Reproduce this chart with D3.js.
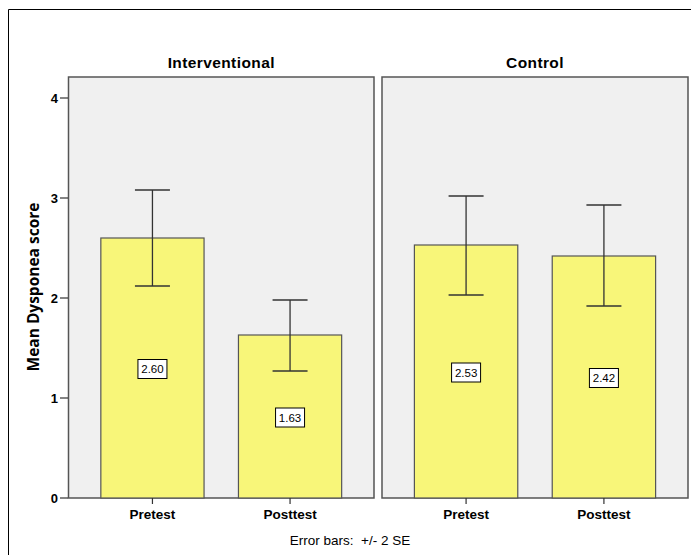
<!DOCTYPE html>
<html>
<head>
<meta charset="utf-8">
<script src="https://cdn.jsdelivr.net/npm/d3@7"></script>
<style>
  body { margin: 0; background: #fff; }
  svg { display: block; font-family: "Liberation Sans", Arial, sans-serif; }
</style>
</head>
<body>
<svg id="chart" width="691" height="555"></svg>
<script>
// Data.
const groups = ['Interventional', 'Control'];
const times = ['Pretest', 'Posttest'];
const means = [[2.60, 1.63], [2.53, 2.42]];
const lower = [[2.12, 1.27], [2.03, 1.92]];
const upper = [[3.08, 1.98], [3.02, 2.93]];
const yTicks = [0, 1, 2, 3, 4];

const svg = d3.select('#chart');

// Outer frame (only top and left edges are visible).
svg.append('path')
  .attr('d', 'M8.5,555 V9.5 H691')
  .attr('fill', 'none')
  .attr('stroke', '#000')
  .attr('stroke-width', 1);

// Panel layout.
const plotTop = 77, plotBottom = 498;
const panels = d3.scaleOrdinal().domain(groups).range([[68.5, 374], [382, 688]]);
const y = d3.scaleLinear().domain([0, 4.21]).range([plotBottom, plotTop]);

groups.forEach((group, gi) => {
  const [x0, x1] = panels(group);
  const x = d3.scaleBand().domain(times).range([x0, x1])
    .paddingInner(0.25).paddingOuter(0.235);
  const g = svg.append('g');

  // Panel background.
  g.append('rect')
    .attr('x', x0).attr('y', plotTop)
    .attr('width', x1 - x0).attr('height', plotBottom - plotTop)
    .attr('fill', '#f0f0f0')
    .attr('stroke', '#555').attr('stroke-width', 1.5);

  // Panel title.
  g.append('text')
    .attr('x', (x0 + x1) / 2).attr('y', 68)
    .attr('text-anchor', 'middle')
    .attr('font-size', 15.5).attr('font-weight', 'bold')
    .attr('letter-spacing', 0.4)
    .text(group);

  const rows = times.map((t, i) => ({
    time: t, mean: means[gi][i], lo: lower[gi][i], hi: upper[gi][i]
  }));

  // Bars.
  g.selectAll('rect.bar').data(rows).join('rect')
    .attr('class', 'bar')
    .attr('x', d => x(d.time)).attr('width', x.bandwidth())
    .attr('y', d => y(d.mean)).attr('height', d => y(0) - y(d.mean))
    .attr('fill', '#f8f679')
    .attr('stroke', '#555').attr('stroke-width', 1.2);

  // Error bars.
  const cx = d => x(d.time) + x.bandwidth() / 2;
  const eb = g.append('g').attr('stroke', '#333').attr('stroke-width', 1.3);
  eb.selectAll('line.v').data(rows).join('line')
    .attr('class', 'v')
    .attr('x1', cx).attr('x2', cx)
    .attr('y1', d => y(d.hi)).attr('y2', d => y(d.lo));
  ['hi', 'lo'].forEach(k => {
    eb.selectAll('line.' + k).data(rows).join('line')
      .attr('class', k)
      .attr('x1', d => cx(d) - 17.5).attr('x2', d => cx(d) + 17.5)
      .attr('y1', d => y(d[k])).attr('y2', d => y(d[k]));
  });

  // Value labels at bar mid-height.
  const lab = g.selectAll('g.lab').data(rows).join('g')
    .attr('class', 'lab')
    .attr('transform', d => `translate(${cx(d)},${(y(d.mean) + y(0)) / 2 + 1})`);
  lab.append('rect')
    .attr('x', -14.5).attr('y', -9.5).attr('width', 29).attr('height', 19)
    .attr('fill', '#fff').attr('stroke', '#000').attr('stroke-width', 1);
  lab.append('text')
    .attr('text-anchor', 'middle').attr('dy', '0.35em')
    .attr('font-size', 11.5)
    .text(d => d.mean.toFixed(2));

  // X axis ticks and labels.
  g.selectAll('line.xt').data(times).join('line')
    .attr('class', 'xt')
    .attr('x1', t => x(t) + x.bandwidth() / 2).attr('x2', t => x(t) + x.bandwidth() / 2)
    .attr('y1', plotBottom).attr('y2', plotBottom + 6)
    .attr('stroke', '#333').attr('stroke-width', 1.2);
  g.selectAll('text.xl').data(times).join('text')
    .attr('class', 'xl')
    .attr('x', t => x(t) + x.bandwidth() / 2).attr('y', 519)
    .attr('text-anchor', 'middle')
    .attr('font-size', 13.5).attr('font-weight', 'bold')
    .text(t => t);
});

// Y axis.
const yAxis = svg.append('g');
yAxis.selectAll('line').data(yTicks).join('line')
  .attr('x1', 60).attr('x2', 68)
  .attr('y1', d => y(d)).attr('y2', d => y(d))
  .attr('stroke', '#333').attr('stroke-width', 1.2);
yAxis.selectAll('text').data(yTicks).join('text')
  .attr('x', 58).attr('y', d => y(d)).attr('dy', '0.36em')
  .attr('text-anchor', 'end')
  .attr('font-size', 13).attr('font-weight', 'bold')
  .text(d => d);

// Y axis title.
svg.append('text')
  .attr('transform', 'translate(39,287) rotate(-90)')
  .attr('text-anchor', 'middle')
  .attr('font-size', 15.5).attr('font-weight', 'bold')
  .attr('font-family', '"Open Sans", "Liberation Sans", sans-serif')
  .text('Mean Dysponea score');

// Footnote.
svg.append('text')
  .attr('x', 350).attr('y', 545)
  .attr('text-anchor', 'middle')
  .attr('font-size', 13.5)
  .attr('xml:space', 'preserve')
  .style('white-space', 'pre')
  .text('Error bars:  +/- 2 SE');
</script>
</body>
</html>
